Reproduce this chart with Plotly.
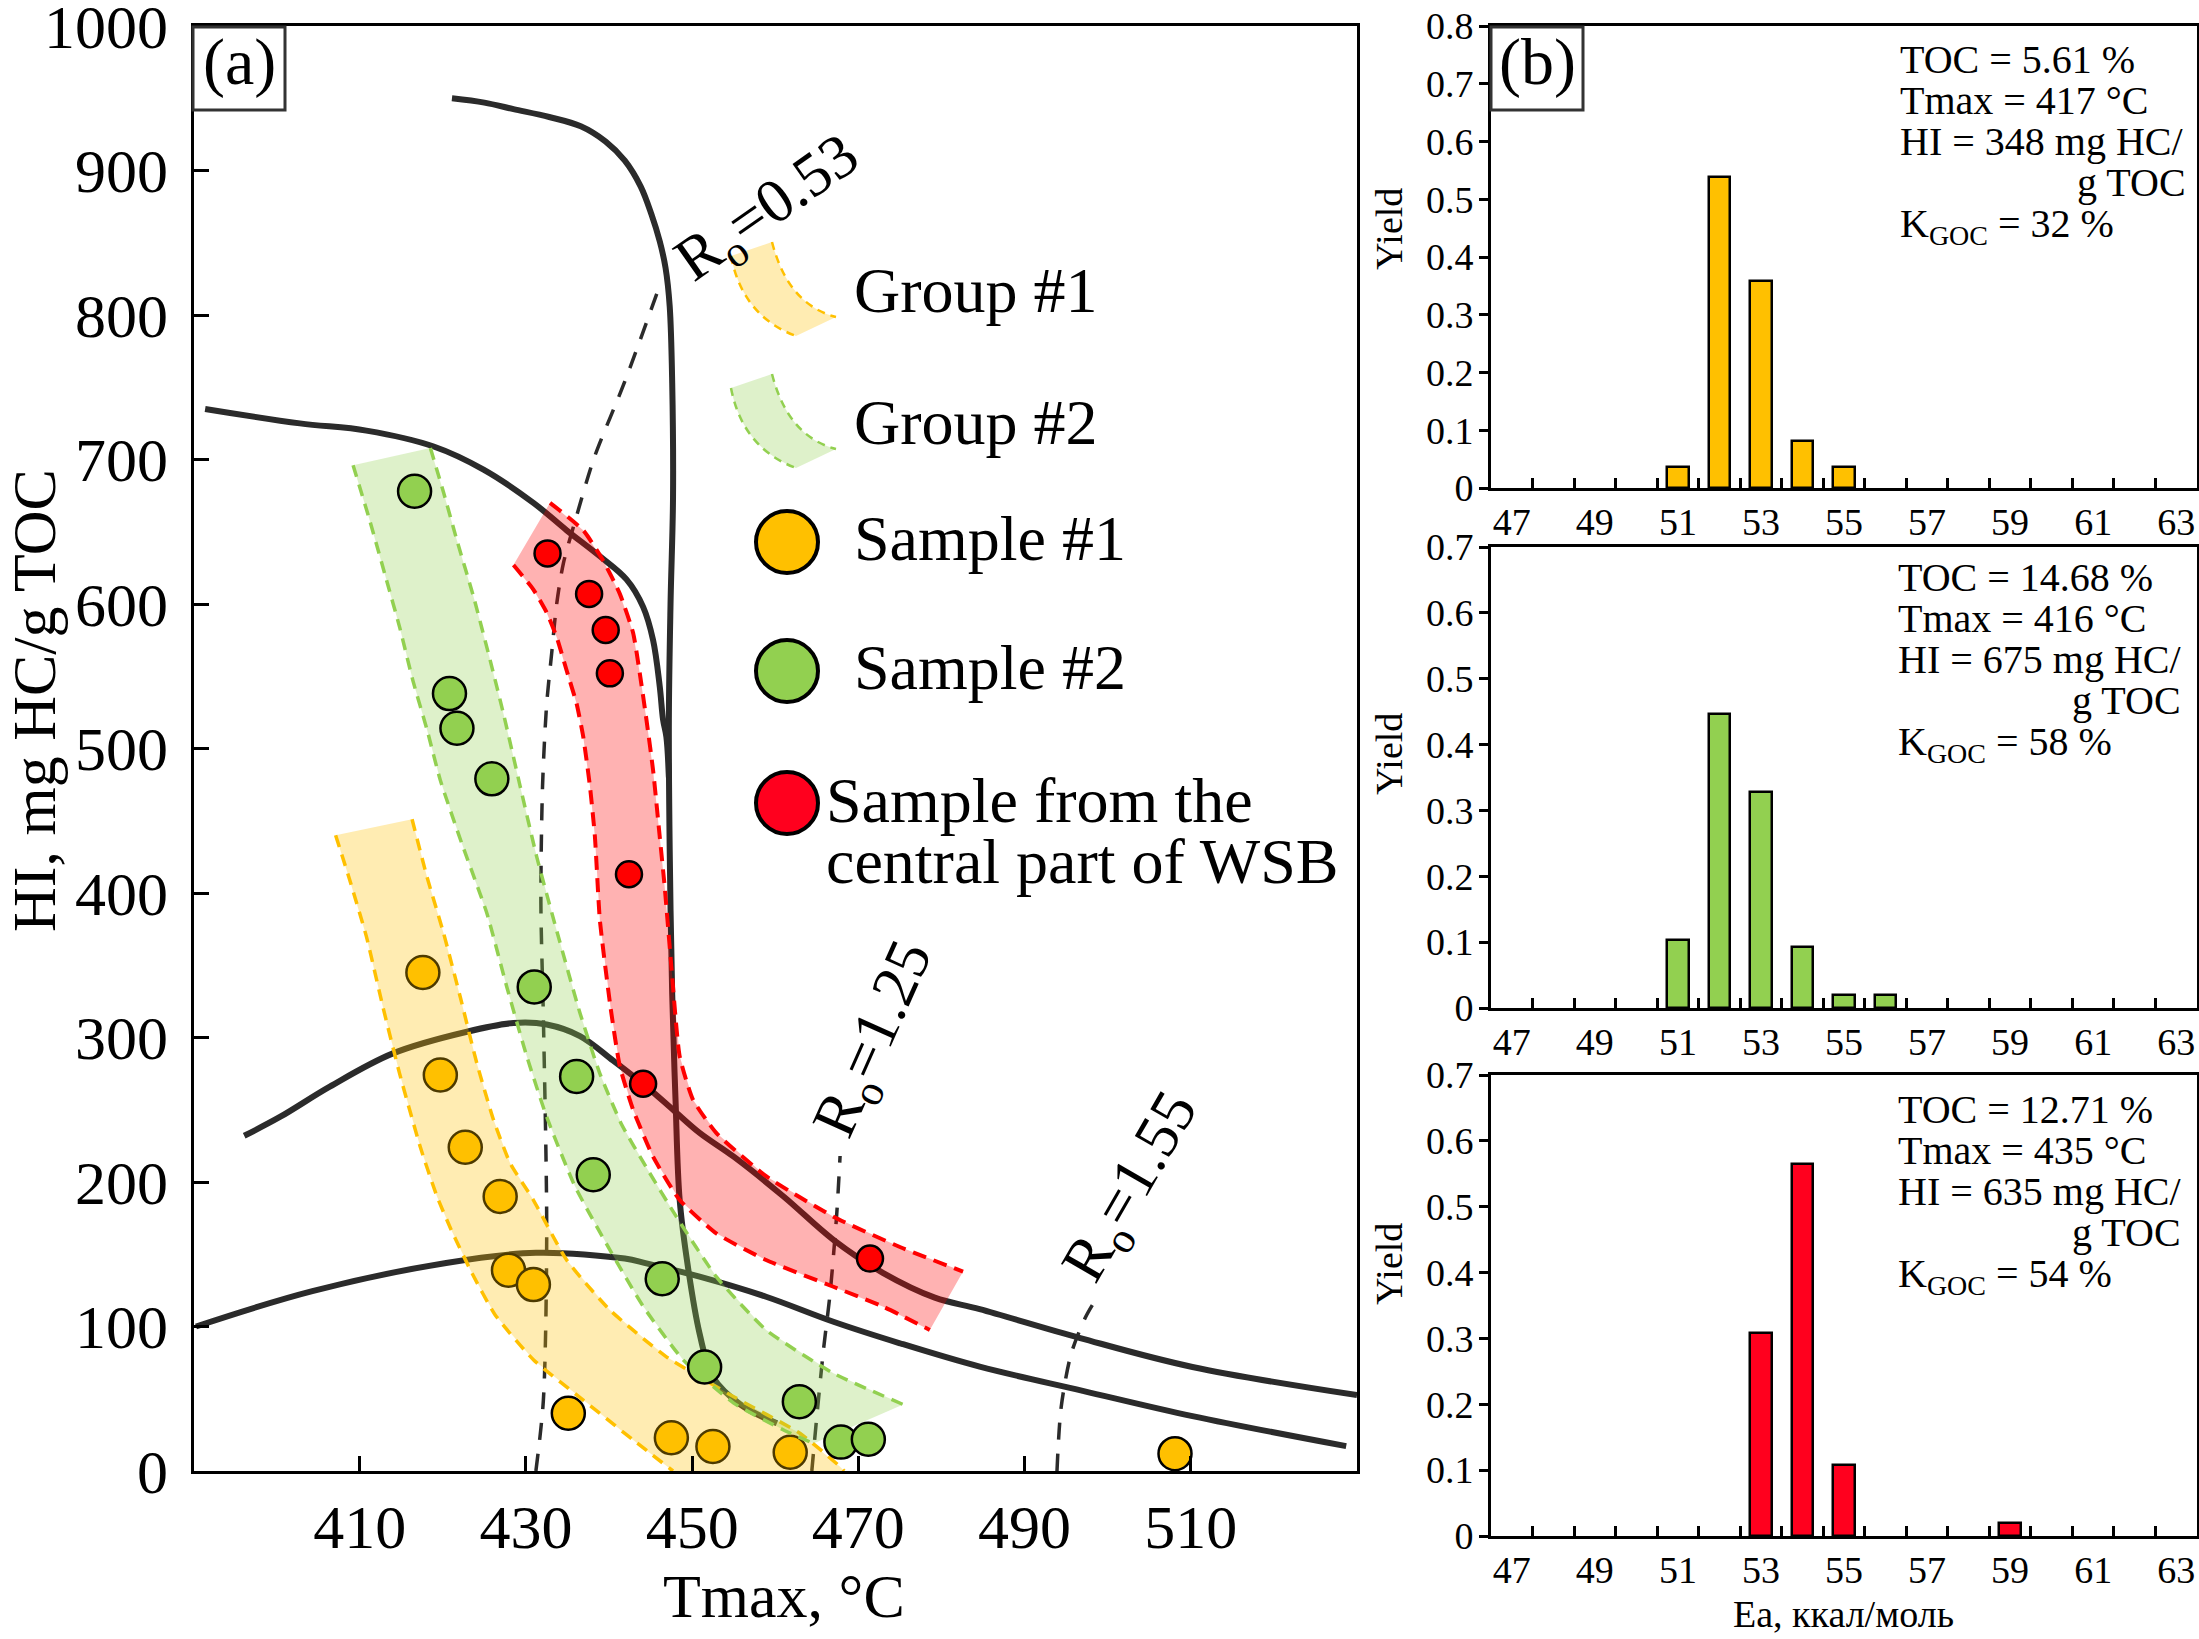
import plotly.graph_objects as go

W, H = 2199, 1639
FONT = "Liberation Serif"

# ---------------- Panel (a): HI vs Tmax ----------------
sample1_tmax = [417.6, 419.7, 422.7, 426.9, 427.9, 430.9, 435.1, 447.5, 452.5, 461.8, 508.1]
sample1_hi = [345, 274, 224, 190, 139, 129, 40, 23, 17, 13, 12]
sample2_tmax = [416.6, 420.8, 421.7, 425.9, 431.0, 436.1, 438.1, 446.4, 451.5, 462.9, 467.9, 471.2]
sample2_hi = [678, 538, 514, 479, 335, 273, 205, 133, 72, 48, 20, 22]
wsb_tmax = [432.6, 437.6, 439.6, 440.1, 442.4, 444.1, 471.4]
wsb_hi = [635, 607, 582, 552, 413, 268, 147]

# kerogen-type boundary curves
typeI_tmax = [421.1, 425.0, 428.5, 432.8, 436.6, 439.6, 441.9, 443.8, 445.1, 446.1, 446.8, 447.3, 447.6, 447.7, 447.4, 447.2, 447.3, 447.6, 448.0, 448.5, 449.5, 450.9, 452.5, 455.8, 460.2]
typeI_hi = [950, 947, 942.5, 937, 930.6, 920, 906.8, 889, 869.7, 851, 832.6, 806, 753, 674, 600, 520, 430, 330, 257, 187.5, 141, 95, 65, 46, 33]
typeII_tmax = [391.4, 402.8, 410.8, 418.9, 424.9, 430.9, 434.9, 438.9, 442.1, 444.1, 445.3, 446.1, 446.5, 446.9, 447.2]
typeII_hi = [735, 725, 720, 709, 693, 670, 651, 633, 617, 598, 575, 543, 520, 508, 480]
typeIII_tmax = [396.1, 400.4, 406.4, 414.0, 422.9, 428.5, 432.5, 436.5, 440.5, 444.5, 447.7, 450.9, 455.0, 461.0, 467.0, 473.0, 479.2, 484.6, 496.7, 510.2, 530.0]
typeIII_hi = [232, 245, 266, 289, 304, 310, 309, 301, 284, 266, 250, 234, 217.5, 190, 160, 137, 120, 112, 92, 72, 52.5]
typeIV_tmax = [390.3, 404.3, 420.4, 431.2, 441.9, 444.5, 450.9, 458.9, 467.0, 475.0, 484.6, 497.0, 510.2, 528.7]
typeIV_hi = [100, 124.5, 144, 151, 147, 143.7, 134.5, 120.6, 103.3, 88.4, 72.2, 55.5, 38, 17.2]

# vitrinite reflectance iso-lines
ro053_tmax = [431.2, 432.1, 432.5, 432.1, 431.8, 432.0, 432.5, 433.1, 433.7, 434.5, 435.9, 438.2, 441.9, 446.2]
ro053_hi = [0, 49, 165, 314, 393, 474, 531, 566, 600, 628, 657, 701, 754, 822]
ro125_tmax = [464.4, 465.0, 465.8, 466.6, 467.4, 467.8]
ro125_hi = [0, 37.6, 83.7, 123, 178, 218]
ro155_tmax = [493.9, 494.4, 495.6, 497.3, 498.6]
ro155_hi = [0, 44, 81, 106, 119]

# Group bands (two edges each)
g1_left_tmax = [407.1, 408.8, 410.8, 412.8, 414.8, 417.3, 419.3, 421.0, 423.5, 426.3, 430.9, 436.9, 442.9, 447.7]
g1_left_hi = [440, 409, 370, 321, 275, 224, 190, 167, 137, 108, 77, 49, 21.5, 0]
g1_right_tmax = [416.3, 418.1, 420.1, 422.1, 424.1, 426.1, 428.1, 430.9, 434.9, 440.1, 446.9, 455.0, 463.0, 467.8, 468.3]
g1_right_hi = [451, 411, 372, 328, 282, 243, 213, 187.5, 146, 111.4, 79, 51.4, 26, 3, 0]

g2_left_tmax = [409.2, 411.2, 413.2, 414.8, 416.4, 418.1, 419.7, 422.3, 425.3, 427.7, 430.1, 432.5, 435.9, 440.1, 444.1, 448.9, 455.0, 461.0, 464.6]
g2_left_hi = [696, 658, 617, 584, 547, 513, 478, 434, 386, 335, 287, 245, 197, 153, 114, 77, 47, 28.4, 19]
g2_right_tmax = [418.5, 420.1, 421.7, 423.7, 425.7, 427.3, 429.3, 431.3, 433.7, 436.5, 438.9, 441.5, 444.5, 448.1, 452.9, 458.9, 467.0, 475.4]
g2_right_hi = [708, 677, 644, 605, 561, 524, 474, 425, 374, 317, 275, 240, 210, 176, 134.5, 97.6, 67.6, 46]

wsb_left_tmax = [428.5, 430.9, 432.5, 433.7, 434.9, 436.1, 436.9, 437.7, 438.3, 438.9, 440.2, 441.3, 442.9, 445.3, 448.5, 452.9, 458.9, 467.0, 473.0, 478.6]
wsb_left_hi = [627, 610, 594, 577, 554, 531, 508, 474, 439, 381, 320, 280, 250, 217.5, 187.5, 164.5, 146, 127.5, 113.7, 97.6]
wsb_right_tmax = [432.9, 436.9, 439.3, 441.3, 442.9, 443.7, 444.5, 445.3, 446.1, 446.7, 447.5, 448.5, 450.1, 452.9, 458.9, 467.0, 475.0, 482.6]
wsb_right_hi = [670, 651, 630, 607, 580, 552, 520, 485, 439, 404, 349, 287, 257, 234, 204, 176, 155, 138]

x_ticks_a = [410, 430, 450, 470, 490, 510]

# ---------------- Panel (b): activation energy distributions ----------------
ea_ticks = [47, 49, 51, 53, 55, 57, 59, 61, 63]
ea_s1 = [51, 52, 53, 54, 55]
yield_s1 = [0.036, 0.538, 0.358, 0.082, 0.036]
ea_s2 = [51, 52, 53, 54, 55, 56]
yield_s2 = [0.103, 0.447, 0.328, 0.093, 0.019, 0.019]
ea_wsb = [53, 54, 55, 59]
yield_wsb = [0.309, 0.565, 0.108, 0.020]

info_s1 = ["TOC = 5.61 %", "Tmax = 417 °C", "HI = 348 mg HC/", "g TOC", "K<sub>GOC</sub> = 32 %"]
info_s2 = ["TOC = 14.68 %", "Tmax = 416 °C", "HI = 675 mg HC/", "g TOC", "K<sub>GOC</sub> = 58 %"]
info_wsb = ["TOC = 12.71 %", "Tmax = 435 °C", "HI = 635 mg HC/", "g TOC", "K<sub>GOC</sub> = 54 %"]

ORANGE = "#FFC000"
GREEN = "#92D050"
RED = "#FF0000"
RED_BAR = "#FF001E"
DARK = "#2B2B2B"

fig = go.Figure()

# --- curves (bottom layer)
for xs, ys in [(typeI_tmax, typeI_hi), (typeII_tmax, typeII_hi), (typeIII_tmax, typeIII_hi), (typeIV_tmax, typeIV_hi)]:
    fig.add_trace(go.Scatter(x=xs, y=ys, mode="lines", line=dict(color=DARK, width=6, shape="spline", smoothing=1.0),
                             showlegend=False, hoverinfo="skip", xaxis="x", yaxis="y"))
for xs, ys in [(ro053_tmax, ro053_hi), (ro125_tmax, ro125_hi), (ro155_tmax, ro155_hi)]:
    fig.add_trace(go.Scatter(x=xs, y=ys, mode="lines", line=dict(color=DARK, width=3.5, dash="17px,14px", shape="spline", smoothing=0.8),
                             showlegend=False, hoverinfo="skip", xaxis="x", yaxis="y"))

# --- sample #1 points (lie under the translucent band)
fig.add_trace(go.Scatter(x=sample1_tmax, y=sample1_hi, mode="markers",
                         marker=dict(size=33, color=ORANGE, line=dict(color="black", width=2.5)),
                         showlegend=False, xaxis="x", yaxis="y"))

def band(lx, ly, rx, ry, color, rgba, dash, width):
    fig.add_trace(go.Scatter(x=lx + rx[::-1], y=ly + ry[::-1], mode="lines", fill="toself",
                             fillcolor=rgba, line=dict(width=0), showlegend=False, hoverinfo="skip",
                             xaxis="x", yaxis="y"))
    for xs, ys in [(lx, ly), (rx, ry)]:
        fig.add_trace(go.Scatter(x=xs, y=ys, mode="lines", line=dict(color=color, width=width, dash=dash, shape="spline", smoothing=0.5),
                                 showlegend=False, hoverinfo="skip", xaxis="x", yaxis="y"))

band(g1_left_tmax, g1_left_hi, g1_right_tmax, g1_right_hi, ORANGE, "rgba(255,192,0,0.3)", "12px,8px", 3.5)
band(g2_left_tmax, g2_left_hi, g2_right_tmax, g2_right_hi, GREEN, "rgba(146,208,80,0.3)", "12px,8px", 3.5)
band(wsb_left_tmax, wsb_left_hi, wsb_right_tmax, wsb_right_hi, RED, "rgba(255,0,0,0.3)", "14px,8px", 4)

fig.add_trace(go.Scatter(x=sample2_tmax, y=sample2_hi, mode="markers",
                         marker=dict(size=33, color=GREEN, line=dict(color="black", width=2.5)),
                         showlegend=False, xaxis="x", yaxis="y"))
fig.add_trace(go.Scatter(x=wsb_tmax, y=wsb_hi, mode="markers",
                         marker=dict(size=26, color=RED, line=dict(color="black", width=2.5)),
                         showlegend=False, xaxis="x", yaxis="y"))

# --- panel (b) bars
for xs, ys, col, ax in [(ea_s1, yield_s1, ORANGE, "2"), (ea_s2, yield_s2, GREEN, "3"), (ea_wsb, yield_wsb, RED_BAR, "4")]:
    fig.add_trace(go.Bar(x=xs, y=ys, width=0.52, marker=dict(color=col, line=dict(color="black", width=2.5)),
                         showlegend=False, xaxis="x" + ax, yaxis="y" + ax))

# ---------------- layout ----------------
def px(x):
    return x / W

def py(y):
    return 1 - y / H

main_x = [px(193.5), px(1357)]
main_y = [py(1471), py(26)]
b_x = [px(1491), px(2197)]
b_y = [[py(488), py(26)], [py(1008), py(547)], [py(1536), py(1075)]]

axis_common = dict(showline=True, linecolor="black", linewidth=3, mirror=True, showgrid=False, zeroline=False,
                   automargin=False, ticklabeloverflow="allow", tickcolor="black",
                   tickfont=dict(family=FONT, size=62, color="black"))

layout = dict(
    width=W, height=H, autosize=False, margin=dict(l=0, r=0, t=0, b=0, pad=0, autoexpand=False),
    paper_bgcolor="white", plot_bgcolor="white", showlegend=False,
    font=dict(family=FONT, color="black"), bargap=0,
    xaxis=dict(domain=main_x, anchor="y", range=[390, 530], tickmode="array", tickvals=x_ticks_a,
               ticks="inside", ticklen=15, tickwidth=3, ticklabelstandoff=0, **axis_common),
    yaxis=dict(domain=main_y, anchor="x", range=[0, 1000], tickmode="linear", tick0=0, dtick=100,
               ticks="inside", ticklen=15, tickwidth=3, ticklabelstandoff=10, **axis_common),
)

minor_vals = [v + 0.5 for v in range(47, 63)]
for i, (ax, rng) in enumerate([("2", 0.8), ("3", 0.7), ("4", 0.7)]):
    common_b = dict(showline=True, linecolor="black", linewidth=3, mirror=True, showgrid=False, zeroline=False,
                    automargin=False, ticklabeloverflow="allow", tickcolor="black",
                    tickfont=dict(family=FONT, size=38, color="black"))
    layout["xaxis" + ax] = dict(domain=b_x, anchor="y" + ax, range=[46.5, 63.5], tickmode="array",
                                tickvals=ea_ticks, ticktext=[str(v) for v in ea_ticks], ticks="",
                                ticklabelstandoff=-2,
                                minor=dict(tickmode="array", tickvals=minor_vals, ticks="inside", ticklen=10,
                                           tickwidth=3, tickcolor="black", showgrid=False),
                                **common_b)
    layout["yaxis" + ax] = dict(domain=b_y[i], anchor="x" + ax, range=[0, rng], tickmode="linear", tick0=0,
                                dtick=0.1, ticks="outside", ticklen=9, tickwidth=3, ticklabelstandoff=-2,
                                **common_b)

fig.update_layout(**layout)

annotations = []

def text_at_baseline(x, baseline, text, size, anchor="left"):
    top = baseline - 0.891 * size - 2
    xx = x - 2 if anchor == "left" else x + 2
    annotations.append(dict(xref="paper", yref="paper", x=px(xx), y=py(top), xanchor=anchor, yanchor="top",
                            text=text, showarrow=False, font=dict(family=FONT, size=size, color="black")))

def text_center(x, y, text, size, angle=0):
    annotations.append(dict(xref="paper", yref="paper", x=px(x), y=py(y), xanchor="center", yanchor="middle",
                            text=text, showarrow=False, textangle=angle,
                            font=dict(family=FONT, size=size, color="black")))

# axis titles
text_center(784, 1596, "Tmax, °C", 62)
text_center(34, 701, "HI, mg HC/g TOC", 62, -90)
text_center(1389, 229, "Yield", 38, -90)
text_center(1389, 754, "Yield", 38, -90)
text_center(1389, 1264, "Yield", 38, -90)
text_center(1843, 1614, "Ea, ккал/моль", 38)

# vitrinite labels
text_center(768, 210, "R<sub>o</sub>=0.53", 62, -35)
text_center(875, 1040, "R<sub>o</sub>=1.25", 62, -66)
text_center(1132, 1188, "R<sub>o</sub>=1.55", 62, -60)

# panel labels
text_center(239, 62, "(a)", 66)
text_center(1537, 62, "(b)", 66)

# legend texts
text_at_baseline(854, 312, "Group #1", 64)
text_at_baseline(854, 444, "Group #2", 64)
text_at_baseline(854, 560, "Sample #1", 64)
text_at_baseline(854, 689, "Sample #2", 64)
text_at_baseline(826, 822, "Sample from the", 64)
text_at_baseline(826, 883, "central part of WSB", 64)

# panel (b) info blocks
for info, x0, xr, bases in [(info_s1, 1900, 2186, [73, 114, 155, 196, 237]),
                            (info_s2, 1898, 2181, [591, 632, 673, 714, 755]),
                            (info_wsb, 1898, 2181, [1123, 1164, 1205, 1246, 1287])]:
    for j, (t, b) in enumerate(zip(info, bases)):
        if j == 3:
            text_at_baseline(xr, b, t, 40, anchor="right")
        else:
            text_at_baseline(x0, b, t, 40)

shapes = []
# panel label boxes
for x0, x1 in [(193, 285), (1491, 1583)]:
    shapes.append(dict(type="rect", xref="paper", yref="paper", x0=px(x0), x1=px(x1), y0=py(110), y1=py(27),
                       line=dict(color="#333333", width=3), fillcolor="rgba(0,0,0,0)"))

# legend band patches
def patch(dy, color, rgba):
    TL, TR, RB, BL = (731, 256 + dy), (772, 242 + dy), (836, 317 + dy), (796, 336 + dy)
    CL, CR = (742.5, 316 + dy), (788, 304.5 + dy)
    P = lambda p: f"{px(p[0]):.5f},{py(p[1]):.5f}"
    fill_path = f"M {P(TL)} L {P(TR)} Q {P(CR)} {P(RB)} L {P(BL)} Q {P(CL)} {P(TL)} Z"
    shapes.append(dict(type="path", xref="paper", yref="paper", path=fill_path, fillcolor=rgba, line=dict(width=0)))
    for a, c, b in [(TL, CL, BL), (TR, CR, RB)]:
        shapes.append(dict(type="path", xref="paper", yref="paper", path=f"M {P(a)} Q {P(c)} {P(b)}",
                           line=dict(color=color, width=2.5, dash="8px,6px")))

patch(0, ORANGE, "rgba(255,192,0,0.3)")
patch(132, GREEN, "rgba(146,208,80,0.3)")

# legend circles
for cy, col in [(542, ORANGE), (671, GREEN), (803, RED_BAR)]:
    r = 31
    shapes.append(dict(type="circle", xref="paper", yref="paper", x0=px(787 - r), x1=px(787 + r),
                       y0=py(cy + r), y1=py(cy - r), fillcolor=col, line=dict(color="black", width=4)))

fig.update_layout(annotations=annotations, shapes=shapes)

fig.write_html("out.html")
